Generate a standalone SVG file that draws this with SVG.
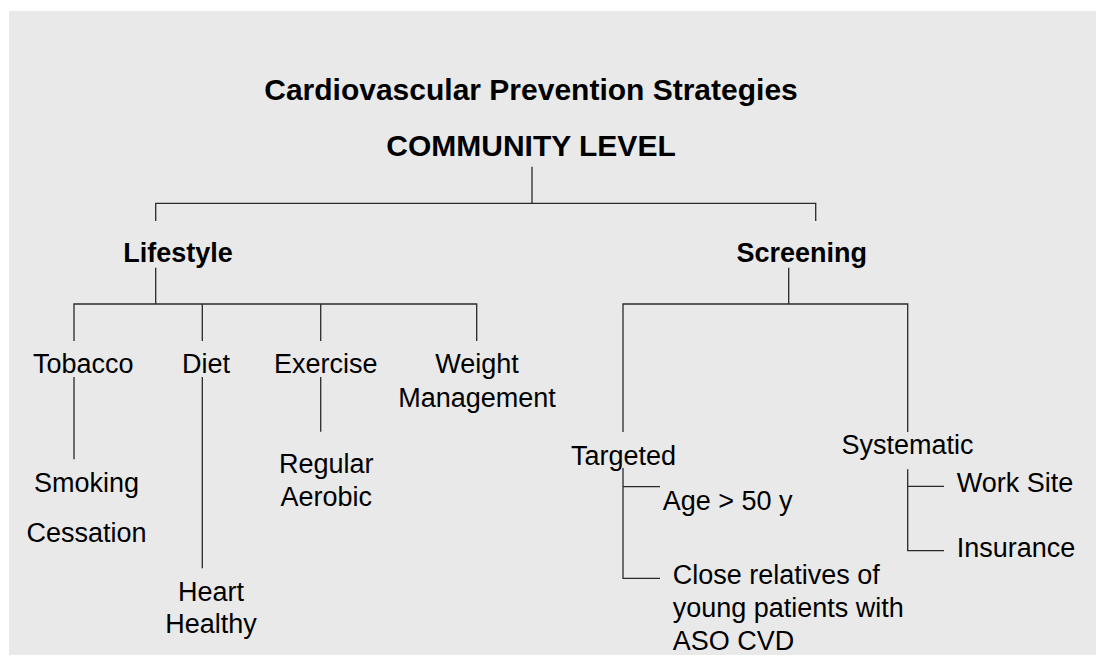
<svg xmlns="http://www.w3.org/2000/svg" width="1096" height="656" viewBox="0 0 1096 656">
<style>
.t{font-family:"Liberation Sans",Arial,sans-serif;fill:#000;font-size:27px}
.b{font-weight:bold}
.c{text-anchor:middle}
.ln{fill:none;stroke:#2a2a2a;stroke-width:1.3}
</style>
<rect width="1096" height="656" fill="#fff"/>
<rect x="9" y="11" width="1087" height="644" fill="#e9e9e9"/>
<g id="connectors" class="ln">
<path d="M532 166.7V203.3"/>
<path d="M155.7 221V203.3H815.7V221"/>
<path d="M155.7 267.7V304"/>
<path d="M74 341V304H476.7V341"/>
<path d="M202.3 304V341"/>
<path d="M320.7 304V341"/>
<path d="M74 377V459.3"/>
<path d="M202.3 377V568.3"/>
<path d="M320.7 377V431.7"/>
<path d="M788.7 267.7V304"/>
<path d="M623 432V304H907.7V432"/>
<path d="M623 468V578.3H660"/>
<path d="M623 486.7H660"/>
<path d="M907.7 469.3V550.7H944"/>
<path d="M907.7 486.3H944"/>
</g>
<g id="title"><text class="t b c" x="531" y="100" style="font-size:30px">Cardiovascular Prevention Strategies</text></g>
<g id="community"><text class="t b c" x="531" y="155.7" style="font-size:30px">COMMUNITY LEVEL</text></g>
<g id="lifestyle"><text class="t b c" x="178" y="262">Lifestyle</text></g>
<g id="screening"><text class="t b c" x="801.8" y="262">Screening</text></g>
<g id="tobacco"><text class="t c" x="83.2" y="372.7">Tobacco</text></g>
<g id="diet"><text class="t c" x="206" y="372.7">Diet</text></g>
<g id="exercise"><text class="t c" x="325.7" y="372.7">Exercise</text></g>
<g id="weight"><text class="t c" x="477" y="372.7">Weight</text><text class="t c" x="477" y="406.7">Management</text></g>
<g id="smoking"><text class="t c" x="86.5" y="491.7">Smoking</text><text class="t c" x="86.5" y="541.7">Cessation</text></g>
<g id="aerobic"><text class="t c" x="326.3" y="473.3">Regular</text><text class="t c" x="326.3" y="506">Aerobic</text></g>
<g id="hearthealthy"><text class="t c" x="211" y="601">Heart</text><text class="t c" x="211" y="633.3">Healthy</text></g>
<g id="targeted"><text class="t c" x="623.5" y="465.3">Targeted</text></g>
<g id="systematic"><text class="t c" x="907.5" y="454.3">Systematic</text></g>
<g id="age"><text class="t" x="662.7" y="510">Age &gt; 50 y</text></g>
<g id="relatives"><text class="t" x="672.7" y="584.3">Close relatives of</text><text class="t" x="672.7" y="617">young patients with</text><text class="t" x="672.7" y="650">ASO CVD</text></g>
<g id="worksite"><text class="t" x="956.7" y="491.7">Work Site</text></g>
<g id="insurance"><text class="t" x="956.7" y="557.3">Insurance</text></g>
</svg>
